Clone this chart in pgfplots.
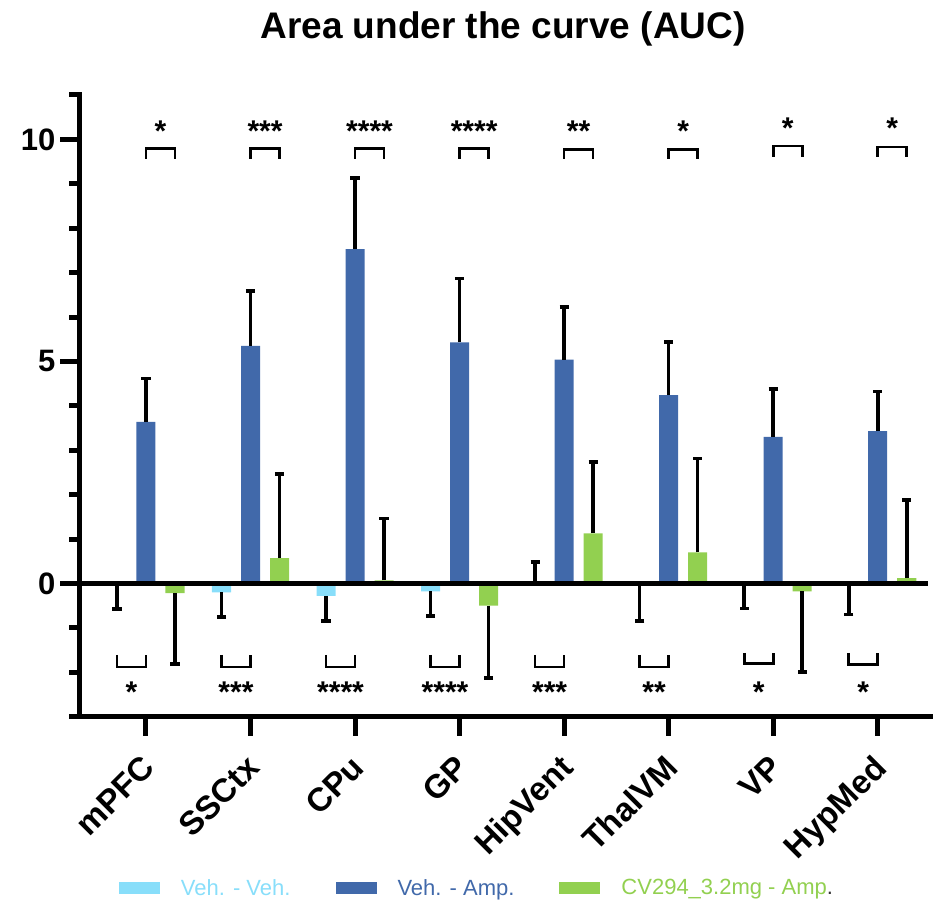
\documentclass[border=0pt]{standalone}
\usepackage{pgfplots}
\pgfplotsset{compat=1.18}
\usepackage{pgfplotstable}
\usepackage{fontspec}
\setmainfont{Liberation Sans}

\definecolor{vvcol}{HTML}{88DEFA}
\definecolor{vacol}{HTML}{4169AA}
\definecolor{cvcol}{HTML}{92D050}

% columns: bar position, mean AUC, signed error (positive = up, negative = down)
\pgfplotstableread{
x y e
-0.2775 -0.02 -0.55
0.7225 -0.20 -0.56
1.7225 -0.28 -0.57
2.7225 -0.18 -0.55
3.7225 -0.05 0.53
4.7225 0.04 -0.88
5.7225 -0.02 -0.54
6.7225 -0.05 -0.65
}\vehveh

\pgfplotstableread{
x y e
0 3.64 0.98
1 5.35 1.24
2 7.53 1.60
3 5.43 1.44
4 5.04 1.19
5 4.24 1.20
6 3.30 1.08
7 3.43 0.89
}\vehamp

\pgfplotstableread{
x y e
0.2775 -0.22 -1.60
1.2775 0.57 1.90
2.2775 0.07 1.39
3.2775 -0.50 -1.63
4.2775 1.13 1.61
5.2775 0.70 2.11
6.2775 -0.18 -1.81
7.2775 0.12 1.76
}\cvamp

\pgfplotsset{
  every error bar/.append style={line width=3.6pt, black},
  errstyle/.style={draw=none, mark=none, forget plot,
    error bars/.cd, y dir=plus, y explicit,
    error mark options={rotate=90, draw=black, line width=3.6pt, mark size=4.6pt}},
}

\begin{document}
\begin{tikzpicture}
\useasboundingbox (0,0) rectangle (938pt,905pt);
\node[anchor=base, font=\bfseries\fontsize{37}{37}\selectfont] at (503pt,866pt) {Area under the curve (AUC)};
\begin{axis}[
  at={(79.5pt,188.3pt)}, anchor=south west,
  scale only axis, width=850.5pt, height=621.7pt,
  xmin=-0.636, xmax=7.5, ymin=-3, ymax=11,
  axis x line*=bottom, axis y line*=left,
  axis line style={line width=5pt, line cap=rect},
  clip=false,
  tick align=outside,
  tick style={line width=5pt, black},
  major tick length=19pt, minor tick length=10pt,
  xtick={0,...,7},
  xticklabels={mPFC,SSCtx,CPu,GP,HipVent,ThalVM,VP,HypMed},
  xticklabel style={font=\bfseries\fontsize{33}{33}\selectfont, inner sep=0pt,
    xshift=11pt, yshift=-34pt, anchor=base east, rotate=45},
  ytick={0,5,10},
  minor ytick={-3,-2,-1,1,2,3,4,6,7,8,9,11},
  yticklabel style={font=\bfseries\fontsize{31}{31}\selectfont, inner sep=0pt, xshift=-5pt},
  /pgf/number format/assume math mode=true,
  legend columns=3,
  legend style={at={(0.0425,-0.2755)}, anchor=west, draw=none, fill=none,
    font=\fontsize{22}{22}\selectfont, nodes={inner sep=0pt},
    /tikz/every odd column/.style={column sep=21pt},
    /tikz/every even column/.style={column sep=45pt}},
]
\addplot[ybar, bar width=0.182, bar shift=0pt, fill=vvcol, draw=none,
  legend image code/.code={\fill[vvcol] (0pt,-6pt) rectangle (41pt,6pt);}]
  table[x=x, y=y]{\vehveh};
\addlegendentry{\textcolor{vvcol}{Veh. - Veh.}}
\addplot[errstyle] table[x=x, y=y, y error=e]{\vehveh};

\addplot[ybar, bar width=0.182, bar shift=0pt, fill=vacol, draw=none,
  legend image code/.code={\fill[vacol] (0pt,-6pt) rectangle (41pt,6pt);}]
  table[x=x, y=y]{\vehamp};
\addlegendentry{\textcolor{vacol}{Veh. - Amp.}}
\addplot[errstyle] table[x=x, y=y, y error=e]{\vehamp};

\addplot[ybar, bar width=0.182, bar shift=0pt, fill=cvcol, draw=none,
  legend image code/.code={\fill[cvcol] (0pt,-6pt) rectangle (41pt,6pt);}]
  table[x=x, y=y]{\cvamp};
\addlegendentry{\textcolor{cvcol}{CV294\_3.2mg - Amp}\textcolor{black!80}{.}}
\addplot[errstyle] table[x=x, y=y, y error=e]{\cvamp};

% zero line
\draw[line width=5pt] (axis cs:-0.636,0) -- (axis cs:7.483,0);

% significance: Veh.-Amp. vs CV294 (above)
\draw[line width=2.7pt] (axis cs:0,9.56) -- (axis cs:0,9.79) -- (axis cs:0.2775,9.79) -- (axis cs:0.2775,9.56);
\draw[line width=2.7pt] (axis cs:1,9.56) -- (axis cs:1,9.79) -- (axis cs:1.2775,9.79) -- (axis cs:1.2775,9.56);
\draw[line width=2.7pt] (axis cs:2,9.56) -- (axis cs:2,9.79) -- (axis cs:2.2775,9.79) -- (axis cs:2.2775,9.56);
\draw[line width=2.7pt] (axis cs:3,9.56) -- (axis cs:3,9.79) -- (axis cs:3.2775,9.79) -- (axis cs:3.2775,9.56);
\draw[line width=2.7pt] (axis cs:4,9.56) -- (axis cs:4,9.77) -- (axis cs:4.2775,9.77) -- (axis cs:4.2775,9.56);
\draw[line width=2.7pt] (axis cs:5,9.56) -- (axis cs:5,9.77) -- (axis cs:5.2775,9.77) -- (axis cs:5.2775,9.56);
\draw[line width=2.7pt] (axis cs:6,9.61) -- (axis cs:6,9.85) -- (axis cs:6.2775,9.85) -- (axis cs:6.2775,9.61);
\draw[line width=2.7pt] (axis cs:7,9.61) -- (axis cs:7,9.83) -- (axis cs:7.2775,9.83) -- (axis cs:7.2775,9.61);
\begin{scope}[every node/.style={anchor=base, font=\bfseries\fontsize{30}{30}\selectfont, inner sep=0pt}]
\node at (axis cs:0.139,9.96) {*};
\node at (axis cs:1.139,9.96) {***};
\node at (axis cs:2.139,9.96) {****};
\node at (axis cs:3.139,9.96) {****};
\node at (axis cs:4.139,9.96) {**};
\node at (axis cs:5.139,9.96) {*};
\node at (axis cs:6.139,10.03) {*};
\node at (axis cs:7.139,10.03) {*};
\end{scope}

% significance: Veh.-Veh. vs Veh.-Amp. (below)
\draw[line width=2.7pt] (axis cs:-0.2775,-1.61) -- (axis cs:-0.2775,-1.88) -- (axis cs:0,-1.88) -- (axis cs:0,-1.61);
\draw[line width=2.7pt] (axis cs:0.7225,-1.61) -- (axis cs:0.7225,-1.88) -- (axis cs:1,-1.88) -- (axis cs:1,-1.61);
\draw[line width=2.7pt] (axis cs:1.7225,-1.61) -- (axis cs:1.7225,-1.88) -- (axis cs:2,-1.88) -- (axis cs:2,-1.61);
\draw[line width=2.7pt] (axis cs:2.7225,-1.61) -- (axis cs:2.7225,-1.88) -- (axis cs:3,-1.88) -- (axis cs:3,-1.61);
\draw[line width=2.7pt] (axis cs:3.7225,-1.61) -- (axis cs:3.7225,-1.88) -- (axis cs:4,-1.88) -- (axis cs:4,-1.61);
\draw[line width=2.7pt] (axis cs:4.7225,-1.61) -- (axis cs:4.7225,-1.88) -- (axis cs:5,-1.88) -- (axis cs:5,-1.61);
\draw[line width=2.7pt] (axis cs:5.7225,-1.56) -- (axis cs:5.7225,-1.80) -- (axis cs:6,-1.80) -- (axis cs:6,-1.56);
\draw[line width=2.7pt] (axis cs:6.7225,-1.56) -- (axis cs:6.7225,-1.82) -- (axis cs:7,-1.82) -- (axis cs:7,-1.56);
\begin{scope}[every node/.style={anchor=base, font=\bfseries\fontsize{30}{30}\selectfont, inner sep=0pt}]
\node at (axis cs:-0.139,-2.68) {*};
\node at (axis cs:0.861,-2.68) {***};
\node at (axis cs:1.861,-2.68) {****};
\node at (axis cs:2.861,-2.68) {****};
\node at (axis cs:3.861,-2.68) {***};
\node at (axis cs:4.861,-2.68) {**};
\node at (axis cs:5.861,-2.68) {*};
\node at (axis cs:6.861,-2.68) {*};
\end{scope}
\end{axis}
\end{tikzpicture}
\end{document}
